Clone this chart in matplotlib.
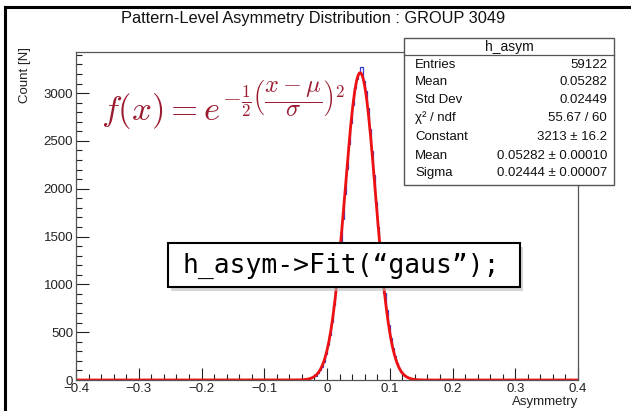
import numpy as np
import matplotlib
matplotlib.use("Agg")
import matplotlib.pyplot as plt
from matplotlib.patches import Rectangle
from matplotlib.lines import Line2D
from matplotlib.ticker import MultipleLocator

# histogram: 240 bins between -0.4 and 0.4, only the filled bins are listed
x_min, x_max, n_bins = -0.4, 0.4, 240
first_bin = 104
counts_filled = [1, 0, 2, 1, 3, 5, 8, 12, 19, 31, 45, 68, 101, 140, 193, 270,
                 362, 470, 609, 785, 968, 1190, 1431, 1680, 1950, 2210, 2470,
                 2690, 2880, 3050, 3150, 3200, 3270, 3130, 3020, 2840, 2620,
                 2390, 2140, 1860, 1600, 1350, 1115, 910, 730, 570, 437, 330,
                 246, 176, 125, 88, 60, 41, 27, 17, 11, 7, 4, 3, 2, 1, 0, 1]

# fit result from the stats box
fit_const, fit_mean, fit_sigma = 3213.0, 0.05282, 0.02444

stat_names = ["Entries", "Mean", "Std Dev", "\u03c7\u00b2 / ndf", "Constant", "Mean", "Sigma"]
stat_values = ["59122", "0.05282", "0.02449", "55.67 / 60",
               "3213 \u00b1 16.2", "0.05282 \u00b1 0.00010", "0.02444 \u00b1 0.00007"]

W, H = 631, 411
def fx(px):
    return px / W
def fy(py):
    return 1 - py / H

plt.rcParams['font.family'] = ['Liberation Sans', 'DejaVu Sans']
plt.rcParams['mathtext.fontset'] = 'cm'

fig = plt.figure(figsize=(W / 100, H / 100), dpi=100)
fig.patch.set_facecolor('white')

ax = fig.add_axes([fx(76), fy(380), fx(578) - fx(76), fy(52) - fy(380)])

edges = np.linspace(x_min, x_max, n_bins + 1)
counts = np.zeros(n_bins)
counts[first_bin:first_bin + len(counts_filled)] = counts_filled
ax.stairs(counts, edges, color='#3a3ad0', lw=0.9)

xf = np.linspace(x_min, x_max, 2000)
yf = fit_const * np.exp(-0.5 * ((xf - fit_mean) / fit_sigma) ** 2)
ax.plot(xf, yf, color='#ee1111', lw=2.0)

ax.set_xlim(x_min, x_max)
ax.set_ylim(0, 3430)
ax.xaxis.set_major_locator(MultipleLocator(0.1))
ax.xaxis.set_minor_locator(MultipleLocator(0.02))
ax.yaxis.set_major_locator(MultipleLocator(500))
ax.yaxis.set_minor_locator(MultipleLocator(100))
ax.tick_params(which='both', direction='in', top=False, right=False, labelsize=9.5,
               colors='#222222', width=0.8)
ax.tick_params(which='major', length=9)
ax.tick_params(which='minor', length=4.5)
ax.tick_params(axis='x', pad=2)
ax.tick_params(axis='y', pad=2)
ax.set_xticks([-0.4, -0.3, -0.2, -0.1, 0, 0.1, 0.2, 0.3, 0.4])
ax.set_xticklabels(['\u22120.4', '\u22120.3', '\u22120.2', '\u22120.1', '0', '0.1', '0.2', '0.3', '0.4'])
for s in ax.spines.values():
    s.set_color('#555555')
    s.set_linewidth(0.9)

fig.text(fx(578), fy(402), 'Asymmetry', ha='right', va='center', fontsize=9.5, color='#222222')
fig.text(fx(25), fy(75), 'Count [N]', ha='center', va='center', rotation=90, fontsize=9.5, color='#222222')

fig.text(fx(313), fy(19), 'Pattern-Level Asymmetry Distribution : GROUP 3049',
         ha='center', va='center', fontsize=11.8, color='#111111')

# stats box
bx0, by0, bx1, by1 = 404, 38, 614, 185
fig.patches.append(Rectangle((fx(bx0), fy(by1)), fx(bx1) - fx(bx0), fy(by0) - fy(by1),
                             transform=fig.transFigure, facecolor='white',
                             edgecolor='#555555', lw=1.0, zorder=5))
fig.lines.append(Line2D([fx(bx0), fx(bx1)], [fy(55), fy(55)], transform=fig.transFigure,
                        color='#555555', lw=0.9, zorder=6))
fig.text(fx((bx0 + bx1) / 2), fy(46.5), 'h_asym', ha='center', va='center',
         fontsize=10, zorder=7, color='#111111')
row_y = [65, 82, 100, 118, 137, 156, 173]
for name, val, yy in zip(stat_names, stat_values, row_y):
    fig.text(fx(415), fy(yy), name, ha='left', va='center', fontsize=9.5, zorder=7, color='#111111')
    fig.text(fx(607), fy(yy), val, ha='right', va='center', fontsize=9.5, zorder=7, color='#111111')

# formula
fig.text(fx(101), fy(121), r'$f(x) = e^{-\frac{1}{2}\left(\dfrac{x-\mu}{\sigma}\right)^2}$',
         ha='left', va='baseline', fontsize=25, color='#9b1c31')

# code box with shadow
cx0, cy0, cx1, cy1 = 168, 243, 520, 287
fig.patches.append(Rectangle((fx(cx0 + 3), fy(cy1 + 4)), fx(cx1) - fx(cx0), fy(cy0) - fy(cy1),
                             transform=fig.transFigure, facecolor='#bbbbbb',
                             edgecolor='none', alpha=0.6, zorder=8))
fig.patches.append(Rectangle((fx(cx0), fy(cy1)), fx(cx1) - fx(cx0), fy(cy0) - fy(cy1),
                             transform=fig.transFigure, facecolor='white',
                             edgecolor='black', lw=1.5, zorder=9))
fig.text(fx(183), fy(266), 'h_asym->Fit(\u201cgaus\u201d);', ha='left', va='center',
         fontsize=19, family='DejaVu Sans Mono', zorder=10, color='black')

# outer frame of the screenshot (left and top edges)
fig.lines.append(Line2D([fx(5), fx(5)], [fy(7), 0], transform=fig.transFigure, color='black', lw=2.2))
fig.lines.append(Line2D([fx(5), 1], [fy(7), fy(7)], transform=fig.transFigure, color='black', lw=2.2))

fig.savefig('out.png', dpi=100)
